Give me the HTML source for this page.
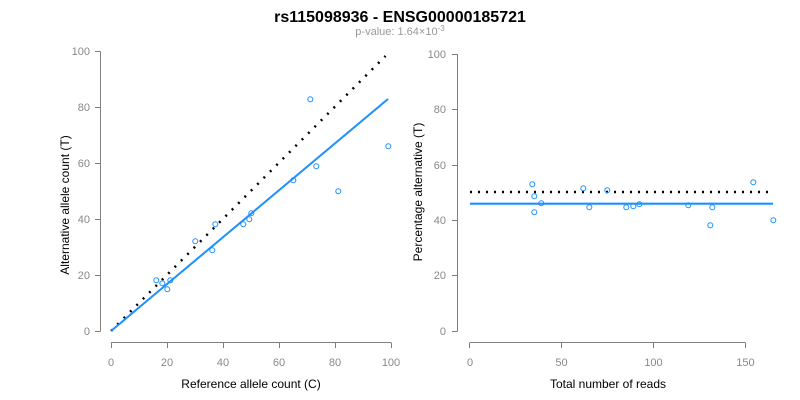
<!DOCTYPE html>
<html><head><meta charset="utf-8"><style>body{margin:0;background:#fff}svg{display:block}</style></head><body>
<svg width="800" height="400" viewBox="0 0 800 400" xmlns="http://www.w3.org/2000/svg" font-family="Liberation Sans, Arial, sans-serif">
<rect width="800" height="400" fill="#fff"/>
<text x="400" y="22" text-anchor="middle" font-size="16" font-weight="bold">rs115098936 - ENSG00000185721</text>
<text x="400" y="35" text-anchor="middle" font-size="11" fill="#999">p-value: 1.64×10<tspan dy="-4" font-size="8">-3</tspan></text>
<g stroke="#808080" stroke-width="1" fill="none">
<path d="M100.5,51.5V331.5M95,51.5H100.5M95,107.5H100.5M95,163.5H100.5M95,219.5H100.5M95,275.5H100.5M95,331.5H100.5"/>
<path d="M111,342.5H391M111.5,342.5V348M167.5,342.5V348M223.5,342.5V348M279.5,342.5V348M335.5,342.5V348M391.5,342.5V348"/>
<path d="M457.5,54V331.5M452,54.5H457.5M452,109.5H457.5M452,165.5H457.5M452,220.5H457.5M452,275.5H457.5M452,331.5H457.5"/>
<path d="M470,342.5H745.5M469.5,342.5V348M561.5,342.5V348M653.5,342.5V348M745.5,342.5V348"/>
</g>
<g font-size="11" fill="#888" text-anchor="end">
<text x="90" y="55">100</text><text x="90" y="111">80</text><text x="90" y="167">60</text><text x="90" y="223">40</text><text x="90" y="279">20</text><text x="90" y="335">0</text>
<text x="446" y="58">100</text><text x="446" y="113">80</text><text x="446" y="169">60</text><text x="446" y="224">40</text><text x="446" y="279">20</text><text x="446" y="335">0</text>
</g>
<g font-size="11" fill="#888" text-anchor="middle">
<text x="111" y="366">0</text><text x="167" y="366">20</text><text x="223" y="366">40</text><text x="279" y="366">60</text><text x="335" y="366">80</text><text x="391" y="366">100</text>
<text x="470" y="366">0</text><text x="561.5" y="366">50</text><text x="653.5" y="366">100</text><text x="745.5" y="366">150</text>
</g>
<g font-size="12" fill="#000" text-anchor="middle">
<text x="251" y="388">Reference allele count (C)</text>
<text x="608" y="388">Total number of reads</text>
<text transform="translate(69,205) rotate(-90)">Alternative allele count (T)</text>
<text transform="translate(422,192) rotate(-90)">Percentage alternative (T)</text>
</g>
<line x1="111" y1="331" x2="385.5" y2="56" stroke="#000" stroke-width="2.5" stroke-dasharray="2,7"/>
<line x1="111" y1="331" x2="388" y2="99" stroke="#1e90ff" stroke-width="2"/>
<line x1="470" y1="192" x2="769" y2="192" stroke="#000" stroke-width="2.5" stroke-dasharray="2,6"/>
<line x1="470" y1="203.7" x2="773" y2="203.7" stroke="#1e90ff" stroke-width="2.2"/>
<g fill="none" stroke="#1e90ff" stroke-width="1">
<circle cx="310.3" cy="99.3" r="2.5"/><circle cx="388.3" cy="146.3" r="2.5"/><circle cx="316.3" cy="166.3" r="2.5"/><circle cx="338.3" cy="191.3" r="2.5"/><circle cx="293.3" cy="180.3" r="2.5"/><circle cx="251.3" cy="213.3" r="2.5"/><circle cx="249.3" cy="219.3" r="2.5"/><circle cx="243.3" cy="224.3" r="2.5"/><circle cx="215.3" cy="224.3" r="2.5"/><circle cx="212.3" cy="250.3" r="2.5"/><circle cx="195.3" cy="241.3" r="2.5"/><circle cx="156.3" cy="280.3" r="2.5"/><circle cx="170.3" cy="280.3" r="2.5"/><circle cx="162.3" cy="283.3" r="2.5"/><circle cx="167.3" cy="289.3" r="2.5"/>
<circle cx="532.3" cy="184.3" r="2.5"/><circle cx="534.3" cy="196.3" r="2.5"/><circle cx="534.3" cy="212.3" r="2.5"/><circle cx="541.3" cy="203.3" r="2.5"/><circle cx="583.3" cy="188.3" r="2.5"/><circle cx="589.3" cy="207.3" r="2.5"/><circle cx="607.3" cy="190.3" r="2.5"/><circle cx="626.3" cy="207.3" r="2.5"/><circle cx="633.3" cy="206.3" r="2.5"/><circle cx="639.3" cy="204.3" r="2.5"/><circle cx="688.3" cy="205.3" r="2.5"/><circle cx="712.3" cy="207.3" r="2.5"/><circle cx="710.3" cy="225.3" r="2.5"/><circle cx="753.3" cy="182.3" r="2.5"/><circle cx="773.3" cy="220.3" r="2.5"/>
</g>
</svg>
</body></html>
